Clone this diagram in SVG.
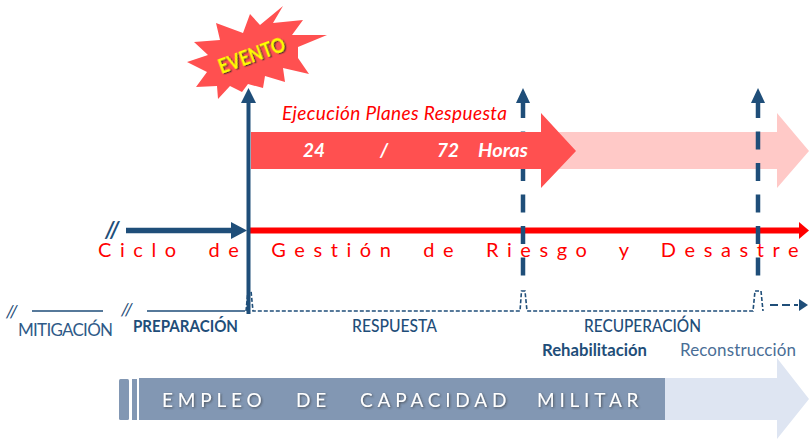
<svg xmlns="http://www.w3.org/2000/svg" width="809" height="440" viewBox="0 0 809 440">
<style>
text{font-family:Lato,"Open Sans","Liberation Sans",sans-serif}
.navy{fill:#1F4E79}
.lbl{fill:#2F5A88;font-size:17px}
.b{font-weight:700;fill:#1F4E79;font-size:17px}
.wh{fill:#fff;font-weight:700;font-style:italic;font-size:19px}
.sl{fill:#1F4E79;font-style:italic}
.cap{fill:#fff;font-size:19px;letter-spacing:4.8px;filter:url(#sh)}
.dash{fill:none;stroke:#1F4E79;stroke-width:4.5;stroke-dasharray:18 13.5}
.pulse{fill:none;stroke:#1F4E79;stroke-width:1.6;stroke-dasharray:4 2}
</style>
<defs>
<filter id="sh" x="-10%" y="-30%" width="120%" height="170%"><feDropShadow dx="1" dy="1" stdDeviation="0.8" flood-color="#333" flood-opacity="0.7"/></filter>
<filter id="sh2" x="-10%" y="-30%" width="120%" height="170%"><feDropShadow dx="1.3" dy="1.3" stdDeviation="0.4" flood-color="#222" flood-opacity="0.8"/></filter>
</defs>
<g id="plazo-claro"><polygon points="541,132 777,132 777,113 809,151 777,188 777,169 541,169" fill="#FFC9C7"/></g>
<g id="connectors">
<path d="M249 230.500H800" stroke="#F00" stroke-width="6"/>
<polygon points="809,230.500 799,222 799,239" fill="#F00"/>
<path class="dash" d="M523 100V277"/>
<path class="dash" d="M758 100V277"/>
<polygon class="navy" points="523,88 530,103 516,103"/>
<polygon class="navy" points="758,88 765,103 751,103"/>
<path d="M126 230.500H233" stroke="#1F4E79" stroke-width="5.500"/>
<polygon class="navy" points="247,230.500 231,222 231,239"/>
<path d="M248.500 314V100" stroke="#1F4E79" stroke-width="4"/>
<polygon class="navy" points="248.500,88 256,103 241,103"/>
<path d="M32 311H103M147 311H245" stroke="#1F4E79" stroke-width="1.500" fill="none"/>
<path class="pulse" d="M246 311L248 291H251L253 311H520L521.500 291H525L527 311H753L755 291H761L763 311"/>
<path d="M770 305H798" stroke="#1F4E79" stroke-width="2" stroke-dasharray="8 4" fill="none"/>
<polygon class="navy" points="808,305 799,299 799,311"/>
</g>
<g id="plazo"><polygon points="251,132 541,132 541,113 576,151 541,188 541,169 251,169" fill="#FF5050"/>
<text class="wh" x="303" y="157">24</text><text class="wh" x="380" y="157">/</text><text class="wh" x="437" y="157">72</text><text class="wh" x="478" y="157" textLength="50" lengthAdjust="spacingAndGlyphs">Horas</text></g>
<g id="evento"><polygon points="283,6 273,23 303,20 292,35 327,35 298,47 298,58 309,74 283,68 285,82 265,76 263,88 248,84 242,92 230,86 218,99 217,86 196,87 207,72 187,62 208,55 194,42 220,40 216,23 243,33 250,14 260,25" fill="#FF5050"/>
<text x="216" y="62" transform="rotate(-20 253 53)" font-size="21" font-weight="700" fill="#FFFF00" filter="url(#sh2)" textLength="70" lengthAdjust="spacingAndGlyphs">EVENTO</text></g>
<g id="ejecucion"><text x="282" y="120" font-size="19" font-style="italic" fill="#F00" textLength="225">Ejecución Planes Respuesta</text></g>
<g id="ciclo"><text x="98" y="257" font-size="20" fill="#F00" letter-spacing="8.600" word-spacing="10">Ciclo de Gestión de Riesgo y Desastre</text></g>
<g id="marcas"><text class="sl" x="105" y="238" font-size="22" font-weight="700">//</text><text class="sl" x="6" y="318" font-size="18">//</text><text class="sl" x="121" y="316" font-size="18">//</text></g>
<g id="mitigacion"><text class="lbl" x="18" y="336" textLength="95">MITIGACIÓN</text></g>
<g id="preparacion"><text class="b" x="133" y="332" textLength="105" lengthAdjust="spacingAndGlyphs">PREPARACIÓN</text></g>
<g id="respuesta"><text class="b" x="352" y="332" textLength="85" lengthAdjust="spacingAndGlyphs" style="font-weight:500">RESPUESTA</text></g>
<g id="recuperacion"><text class="b" x="584" y="332" textLength="117" lengthAdjust="spacingAndGlyphs" style="font-weight:500">RECUPERACIÓN</text></g>
<g id="rehabilitacion"><text class="b" x="542" y="356" textLength="105" lengthAdjust="spacingAndGlyphs">Rehabilitación</text></g>
<g id="reconstruccion"><text class="lbl" x="680" y="356" textLength="116" style="fill:#4A6E96">Reconstrucción</text></g>
<g id="empleo">
<polygon points="665,378 777,378 777,358 809,399 777,439 777,420 665,420" fill="#DEE5F2"/>
<rect x="119" y="379" width="10" height="41" rx="1.500" fill="#8297B3"/>
<rect x="132" y="379" width="5" height="41" fill="#8297B3"/>
<rect x="139" y="378" width="526" height="42" fill="#8297B3"/>
<text class="cap" y="407"><tspan x="162">EMPLEO</tspan> <tspan x="296">DE</tspan> <tspan x="360">CAPACIDAD</tspan> <tspan x="537">MILITAR</tspan></text>
</g>
</svg>
